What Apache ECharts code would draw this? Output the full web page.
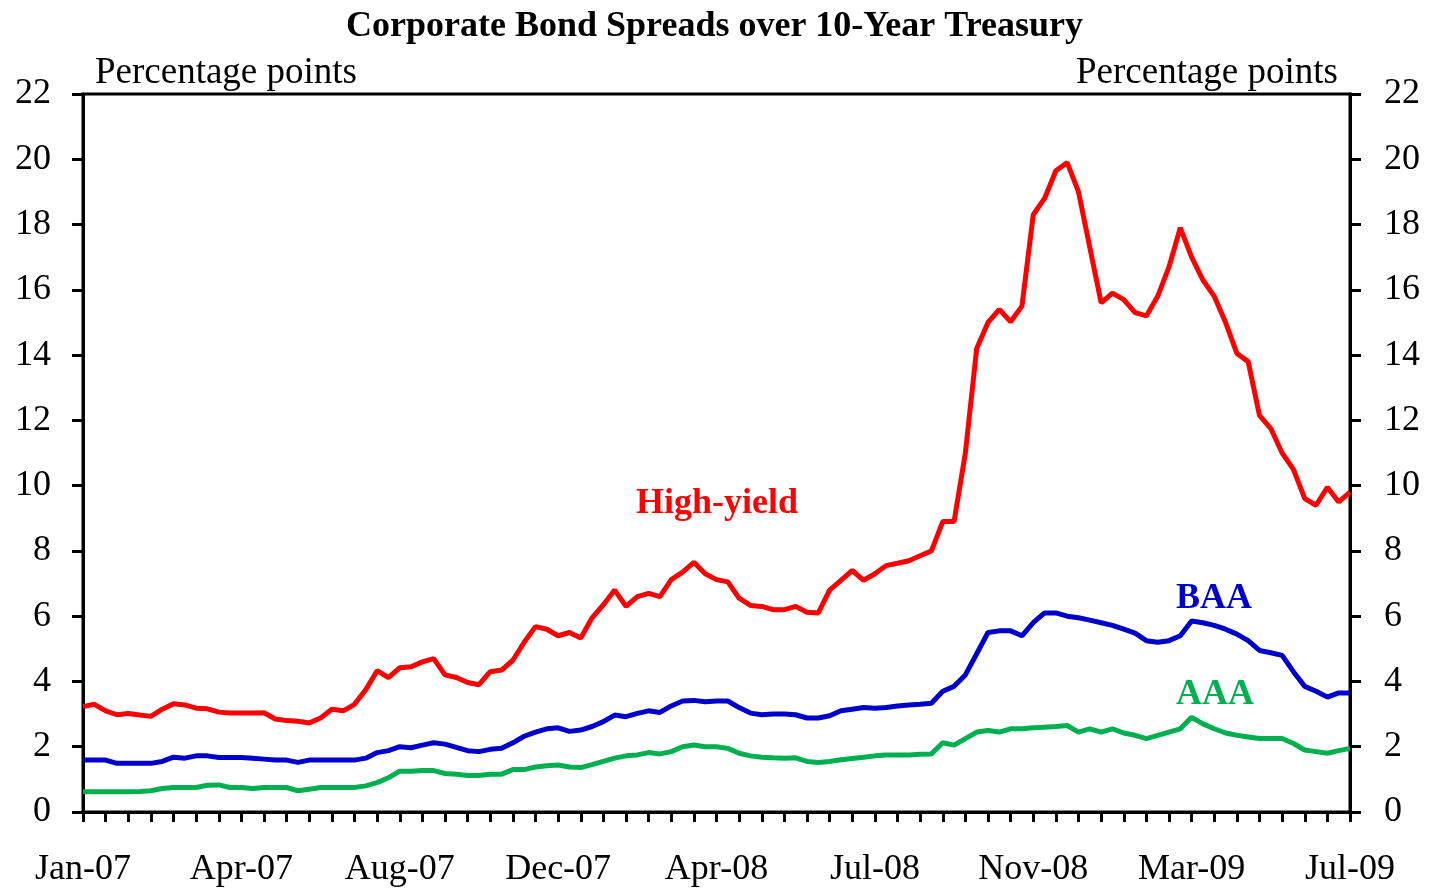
<!DOCTYPE html>
<html>
<head>
<meta charset="utf-8">
<title>Corporate Bond Spreads over 10-Year Treasury</title>
<script src="https://cdn.jsdelivr.net/npm/echarts@6/dist/echarts.min.js"></script>
<style>
  html, body { margin: 0; padding: 0; background: #fff; }
  #chart { width: 1429px; height: 888px; }
</style>
</head>
<body>
<div id="chart"></div>
<script>
// x labels, one every 14 points (ticks every 2 points)
const tickLabels = ['Jan-07', 'Apr-07', 'Aug-07', 'Dec-07', 'Apr-08', 'Jul-08', 'Nov-08', 'Mar-09', 'Jul-09']

// spreads in percentage points
const highYield = [
  3.23, 3.3, 3.1, 2.98, 3.02, 2.97, 2.93, 3.15, 3.32, 3.28,
  3.18, 3.16, 3.06, 3.03, 3.03, 3.03, 3.04, 2.85, 2.8, 2.78,
  2.73, 2.88, 3.15, 3.1, 3.3, 3.75, 4.33, 4.12, 4.42, 4.45,
  4.6, 4.7, 4.2, 4.12, 3.97, 3.9, 4.3, 4.35, 4.65, 5.2,
  5.68, 5.6, 5.4, 5.5, 5.33, 5.95, 6.35, 6.8, 6.3, 6.6,
  6.7, 6.6, 7.12, 7.35, 7.65, 7.3, 7.12, 7.05, 6.55, 6.33,
  6.3, 6.2, 6.2, 6.3, 6.12, 6.1, 6.8, 7.1, 7.4, 7.1,
  7.3, 7.55, 7.62, 7.7, 7.85, 8.0, 8.9, 8.9, 11.0, 14.2,
  15.0, 15.4, 15.02, 15.5, 18.3, 18.8, 19.65, 19.9, 19.0, 17.3,
  15.6, 15.9, 15.7, 15.3, 15.2, 15.8, 16.7, 17.9, 17.0, 16.3,
  15.8, 15.0, 14.05, 13.8, 12.15, 11.75, 11.0, 10.5, 9.6, 9.4,
  9.95, 9.5, 9.8
]
const baa = [
  1.59, 1.59, 1.59, 1.49, 1.49, 1.49, 1.49, 1.55, 1.68, 1.65,
  1.72, 1.72, 1.67, 1.67, 1.67, 1.65, 1.62, 1.59, 1.59, 1.52,
  1.59, 1.59, 1.59, 1.59, 1.59, 1.65, 1.82, 1.88, 2.0, 1.97,
  2.05, 2.12, 2.08, 1.98, 1.88, 1.85, 1.92, 1.95, 2.12, 2.32,
  2.45, 2.55, 2.58, 2.47, 2.51, 2.62, 2.77, 2.97, 2.92, 3.02,
  3.1, 3.05, 3.25, 3.4, 3.42, 3.38, 3.4, 3.4, 3.2, 3.03,
  2.98, 3.0, 3.0, 2.98, 2.88, 2.88, 2.95, 3.1, 3.15, 3.2,
  3.18, 3.2, 3.25, 3.28, 3.3, 3.33, 3.7, 3.85, 4.2, 4.85,
  5.5, 5.55, 5.55, 5.4, 5.8, 6.1, 6.1, 6.0, 5.95, 5.88,
  5.8, 5.72, 5.6, 5.48, 5.25, 5.2, 5.25, 5.4, 5.85, 5.8,
  5.72, 5.6, 5.45, 5.25, 4.95, 4.88, 4.8, 4.3, 3.85, 3.7,
  3.52, 3.65, 3.65
]
const aaa = [
  0.62, 0.62, 0.62, 0.62, 0.62, 0.63, 0.65, 0.72, 0.75, 0.75,
  0.75, 0.82, 0.83, 0.75, 0.75, 0.72, 0.75, 0.75, 0.75, 0.65,
  0.7, 0.75, 0.75, 0.75, 0.75, 0.8, 0.9, 1.05, 1.25, 1.25,
  1.27, 1.27, 1.18, 1.16, 1.12, 1.12, 1.16, 1.16, 1.3, 1.3,
  1.38, 1.42, 1.44, 1.38, 1.36, 1.45, 1.55, 1.65, 1.72, 1.75,
  1.82, 1.78, 1.85, 2.0, 2.05, 2.0, 2.0, 1.95, 1.8, 1.72,
  1.68, 1.66, 1.65, 1.66, 1.55, 1.52, 1.55, 1.6, 1.64, 1.68,
  1.72, 1.75, 1.75, 1.75, 1.77, 1.78, 2.12, 2.05, 2.25, 2.45,
  2.5, 2.45, 2.55, 2.55, 2.58, 2.6, 2.62, 2.65, 2.45, 2.55,
  2.45, 2.55, 2.42, 2.35, 2.25, 2.35, 2.45, 2.55, 2.9, 2.7,
  2.55, 2.42, 2.35, 2.3, 2.25, 2.25, 2.25, 2.1, 1.9, 1.85,
  1.8, 1.88, 1.95
]

const FONT = 'Liberation Serif'
const chart = echarts.init(document.getElementById('chart'))

// pair every value with its point index for the value x axis
function toPoints(arr) {
  return arr.map((v, i) => [i, v])
}

function yAxisOpt(pos) {
  return {
    type: 'value',
    position: pos,
    min: 0,
    max: 22,
    interval: 2,
    axisLine: { show: true, lineStyle: { color: '#000', width: 3 } },
    axisTick: { show: true, inside: false, length: 11, lineStyle: { color: '#000', width: 3 } },
    axisLabel: {
      color: '#000',
      fontFamily: FONT,
      fontSize: 36,
      margin: pos === 'left' ? 32 : 34,
      align: pos === 'left' ? 'right' : 'left'
    },
    splitLine: { show: false }
  }
}

const lineStyleOf = (color) => ({ color: color, width: 5 })

chart.setOption({
  animation: false,
  backgroundColor: '#fff',
  grid: {
    left: 83,
    right: 79,
    top: 94,
    bottom: 76,
    show: true,
    borderColor: '#000',
    borderWidth: 3,
    backgroundColor: 'transparent'
  },
  xAxis: {
    type: 'value',
    min: 0,
    max: (tickLabels.length - 1) * 14,
    interval: 2,
    axisLine: { show: true, lineStyle: { color: '#000', width: 3 } },
    axisTick: { show: true, length: 10, lineStyle: { color: '#000', width: 3 } },
    axisLabel: {
      color: '#000',
      fontFamily: FONT,
      fontSize: 36,
      margin: 40,
      formatter: (v) => (v % 14 === 0 ? tickLabels[v / 14] : '')
    },
    splitLine: { show: false }
  },
  yAxis: [yAxisOpt('left'), yAxisOpt('right')],
  series: [
    {
      name: 'AAA',
      type: 'line',
      data: toPoints(aaa),
      showSymbol: false,
      lineStyle: lineStyleOf('#00B050'),
      itemStyle: { color: '#00B050' }
    },
    {
      name: 'BAA',
      type: 'line',
      data: toPoints(baa),
      showSymbol: false,
      lineStyle: lineStyleOf('#0000CC'),
      itemStyle: { color: '#0000CC' }
    },
    {
      name: 'High-yield',
      type: 'line',
      data: toPoints(highYield),
      showSymbol: false,
      lineStyle: lineStyleOf('#FF0000'),
      itemStyle: { color: '#FF0000' }
    }
  ],
  graphic: [
    {
      type: 'text', left: 'center', top: 9,
      style: { text: 'Corporate Bond Spreads over 10-Year Treasury', font: 'bold 36px "Liberation Serif"', fill: '#000' }
    },
    {
      type: 'text', left: 95, top: 55,
      style: { text: 'Percentage points', font: '37px "Liberation Serif"', fill: '#000' }
    },
    {
      type: 'text', right: 91, top: 55,
      style: { text: 'Percentage points', font: '37px "Liberation Serif"', fill: '#000' }
    },
    {
      type: 'text', left: 636, top: 486,
      style: { text: 'High-yield', font: 'bold 36px "Liberation Serif"', fill: '#FF0000' }
    },
    {
      type: 'text', left: 1176, top: 581,
      style: { text: 'BAA', font: 'bold 36px "Liberation Serif"', fill: '#0000CC' }
    },
    {
      type: 'text', left: 1176, top: 677,
      style: { text: 'AAA', font: 'bold 36px "Liberation Serif"', fill: '#00B050' }
    }
  ]
})
</script>
</body>
</html>
